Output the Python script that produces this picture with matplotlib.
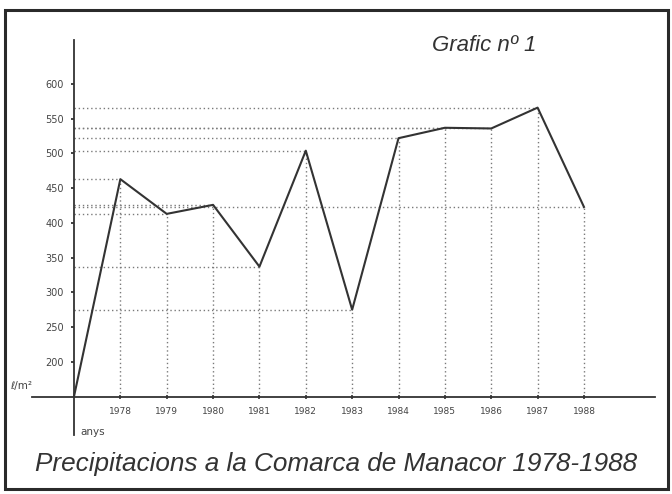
import matplotlib.pyplot as plt
from matplotlib.patches import Rectangle

# data (l/m2 per year)
years = [1977, 1978, 1979, 1980, 1981, 1982, 1983, 1984, 1985, 1986, 1987, 1988]
rain = [150, 463, 413, 426, 337, 504, 275, 522, 537, 536, 566, 423]
ytick_vals = [200, 250, 300, 350, 400, 450, 500, 550, 600]
ytick_labels = ['200', '250', '300', '350', '400', '450', '500', '550', '600']
xtick_labels = ['1978', '1979', '1980', '1981', '1982', '1983', '1984', '1985',
                '1986', '1987', '1988']

fig = plt.figure(figsize=(6.72, 4.94), dpi=100)
ax = fig.add_axes([0, 0, 1, 1])
ax.set_xlim(1975.404, 1989.899)
ax.set_ylim(9.6, 721)
ax.patch.set_alpha(0)

# frame round the whole sheet
fig.patches.append(Rectangle((0.0074, 0.0101), 0.9866, 0.970, transform=fig.transFigure,
                             fill=False, lw=2.2, ec='#2a2a2a'))

# dotted guide lines from each point to the axes
dot = dict(color='#7a7a7a', lw=1.0, ls=(0, (1, 2)), zorder=1)
for yr, v in zip(years[1:], rain[1:]):
    ax.plot([years[0], yr], [v, v], **dot)
    ax.plot([yr, yr], [rain[0], v], **dot)

ax.plot(years, rain, color='#333333', lw=1.5, zorder=3)

# axes drawn as spines crossing at the origin
for s in ['top', 'right']:
    ax.spines[s].set_visible(False)
ax.spines['left'].set_position(('data', 1977))
ax.spines['bottom'].set_position(('data', 150))
ax.spines['left'].set_bounds(94.5, 663)
ax.spines['bottom'].set_bounds(1976.09, 1989.53)
for s in ['left', 'bottom']:
    ax.spines[s].set_color('#333333')
    ax.spines[s].set_linewidth(1.3)

ax.set_yticks(ytick_vals)
ax.set_yticklabels(ytick_labels)
ax.set_xticks(years[1:])
ax.set_xticklabels(xtick_labels)
ax.tick_params(axis='y', direction='out', length=2.5, width=1.3, pad=5,
               labelsize=7, labelcolor='#444444', color='#333333')
ax.tick_params(axis='x', direction='inout', length=3, width=1.2, pad=6,
               labelsize=6.5, labelcolor='#444444', color='#333333')

ax.annotate('ℓ/m²', xy=(10, 494 - 386), xycoords='figure pixels', fontsize=7.5,
            color='#444444', ha='left', va='center')
ax.annotate('anys', xy=(80, 494 - 432), xycoords='figure pixels', fontsize=7.5,
            color='#444444', ha='left', va='center')
ax.annotate('Grafic nº 1', xy=(432, 494 - 45), xycoords='figure pixels',
            fontsize=16, style='italic', family='Liberation Sans', color='#333333',
            ha='left', va='center')
ax.annotate('Precipitacions a la Comarca de Manacor 1978-1988', xy=(336, 494 - 464),
            xycoords='figure pixels', fontsize=18.8, style='italic',
            family='Liberation Sans', color='#333333', ha='center', va='center')

fig.savefig('out.png', dpi=100)
